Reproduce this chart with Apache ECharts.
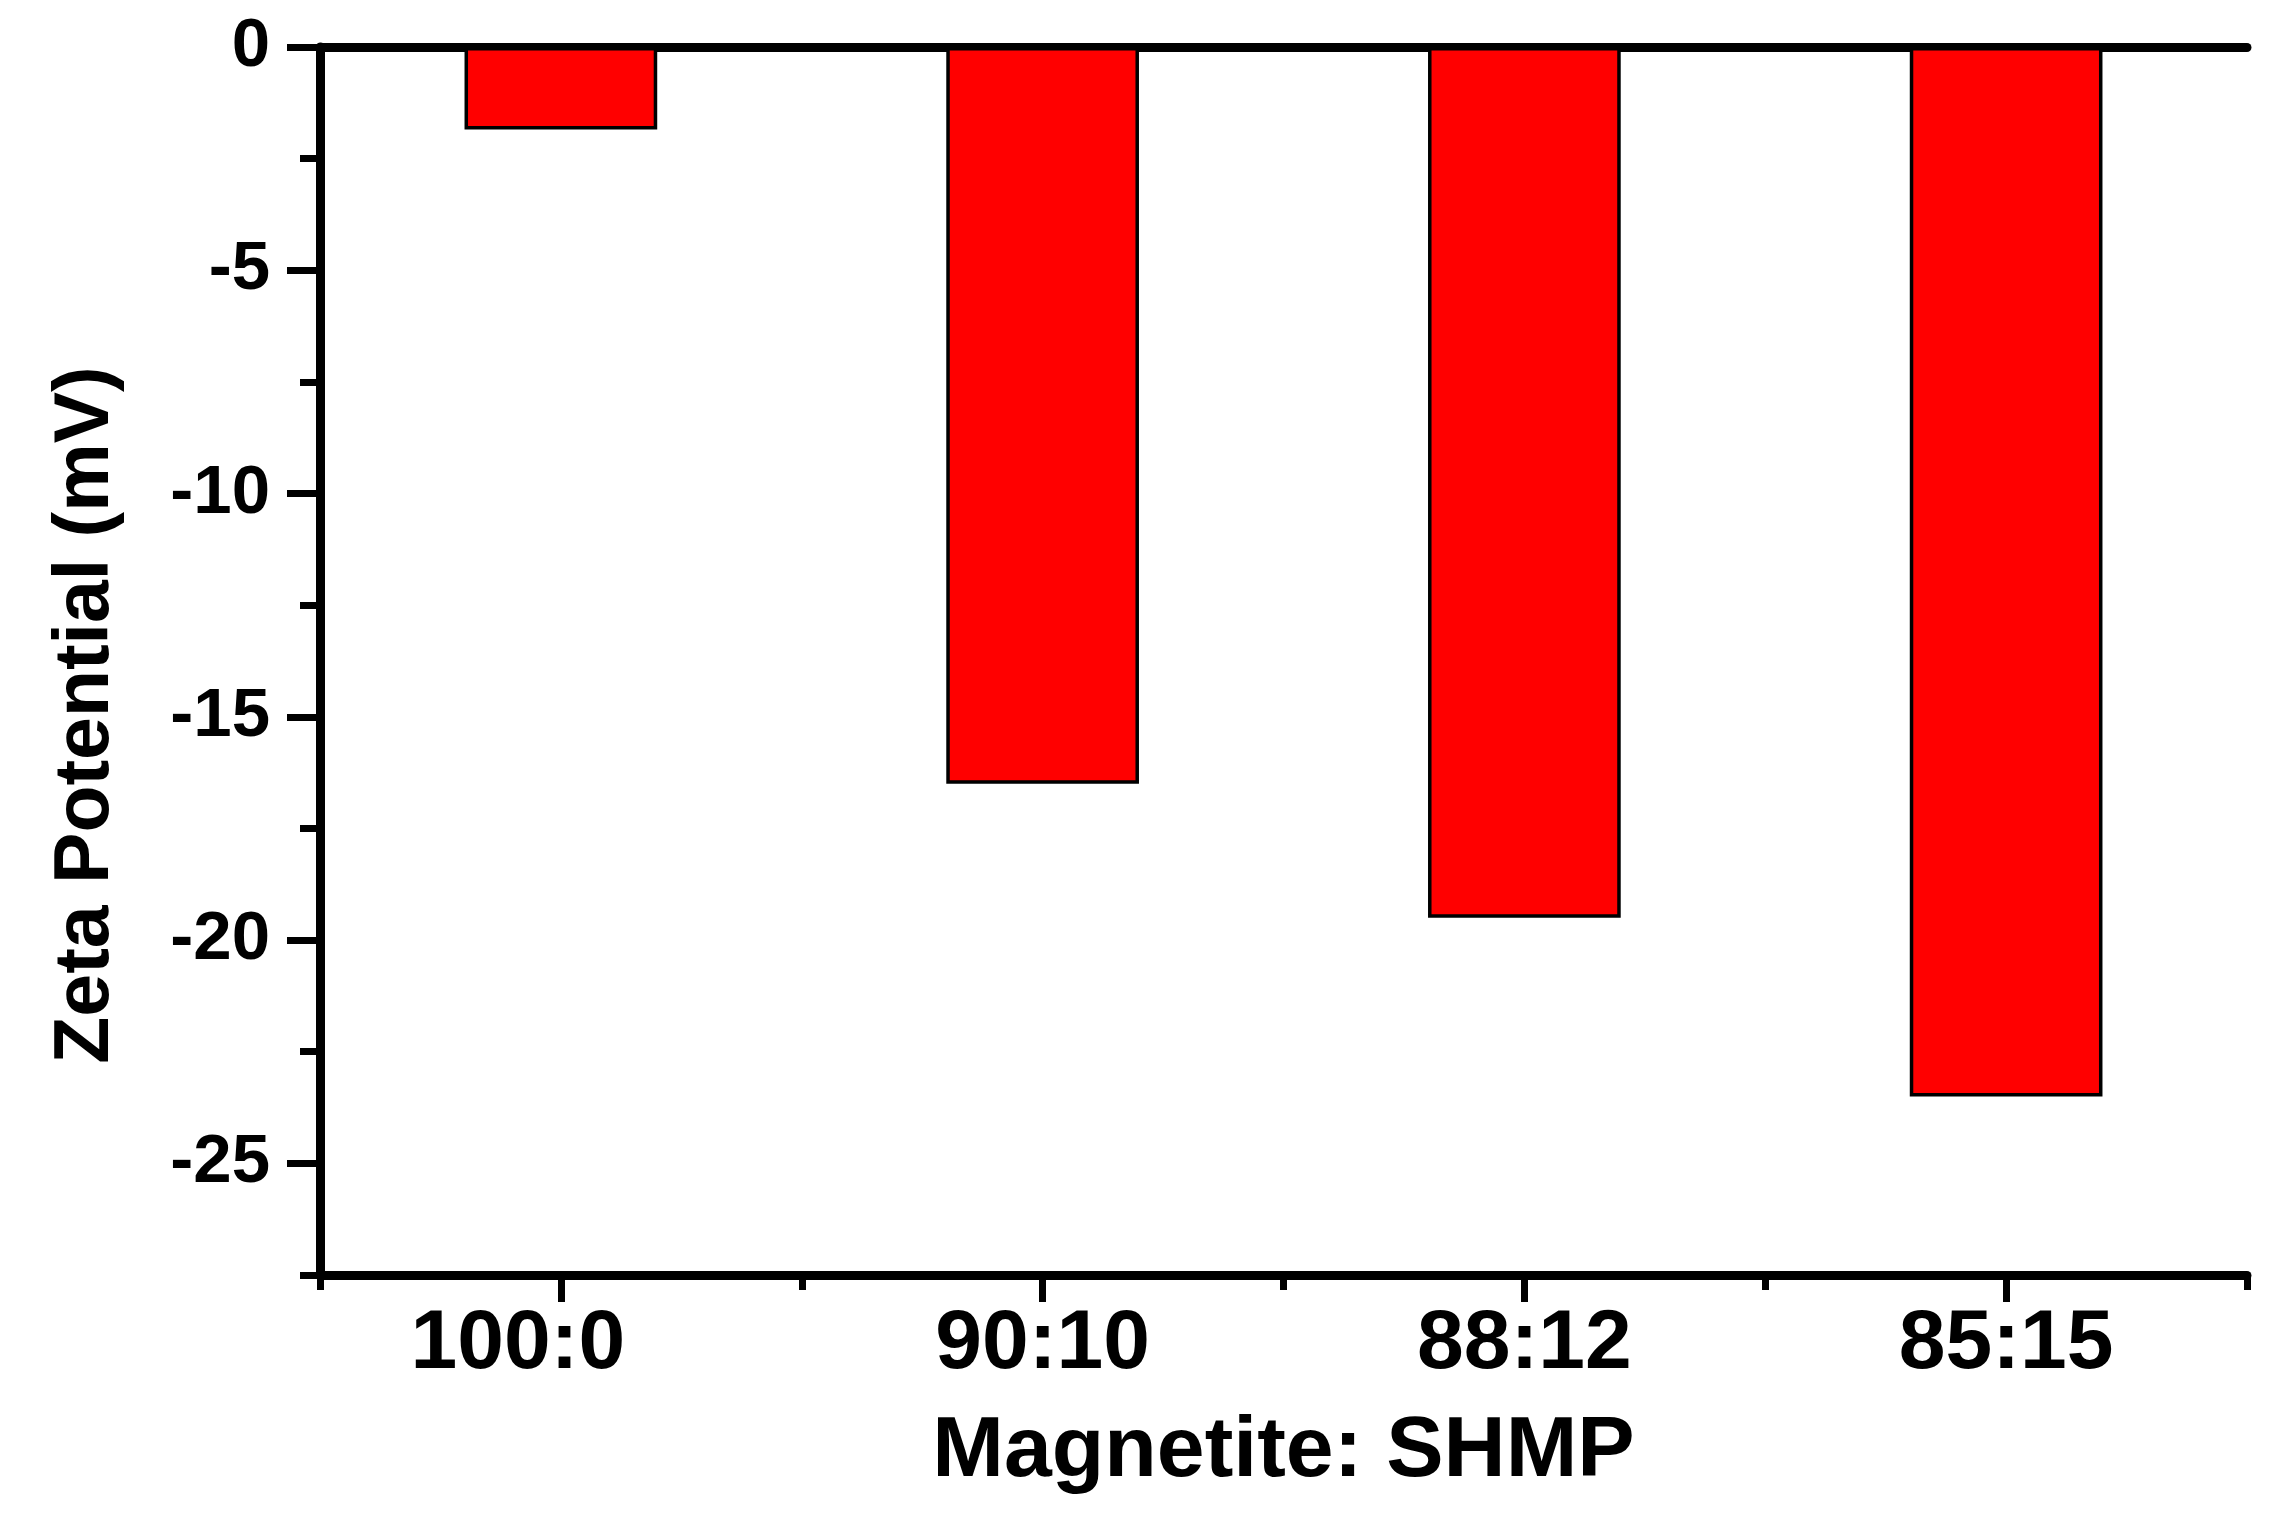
<!DOCTYPE html>
<html>
<head>
<meta charset="utf-8">
<script src="https://cdn.jsdelivr.net/npm/echarts@6/dist/echarts.min.js"></script>
<style>
  html, body { margin: 0; padding: 0; background: #fff; }
  #chart { width: 2270px; height: 1515px; }
</style>
</head>
<body>
<div id="chart"></div>
<script>
// Magnetite : SHMP ratios and measured zeta potentials (mV)
const ratios = ['100:0', '90:10', '88:12', '85:15'];
const zetaValues = [-1.85, -16.5, -19.5, -23.5];
const yMajorTicks = [0, -5, -10, -15, -20, -25];
const yMinorTicks = [-2.5, -7.5, -12.5, -17.5, -22.5, -27.5];
const yMin = -27.5;
const yMax = 0;

const font = '"Liberation Sans", Arial, sans-serif';
const chart = echarts.init(document.getElementById('chart'));

// the first label sits a little left of its tick in the original figure
const xLabels = ratios.map(function (r, i) {
    return i === 0 ? { value: r, textStyle: { padding: [0, 86, 0, 0] } } : r;
});

chart.setOption({
    backgroundColor: '#ffffff',
    animation: false,
    grid: { left: 320, right: 23, top: 47, bottom: 240 },
    xAxis: [
        {
            // main axis: labels + short ticks on category boundaries
            type: 'category',
            data: xLabels,
            position: 'bottom',
            axisLine: { onZero: false, lineStyle: { color: '#000', width: 9 } },
            axisTick: { show: true, length: 15, lineStyle: { color: '#000', width: 7 } },
            axisLabel: {
                color: '#000', fontFamily: font, fontWeight: 'bold', fontSize: 84, margin: 28
            },
            name: 'Magnetite: SHMP',
            nameLocation: 'middle',
            nameGap: 134,
            nameTextStyle: { color: '#000', fontFamily: font, fontWeight: 'bold', fontSize: 86 },
            splitLine: { show: false }
        },
        {
            // longer ticks under each category
            type: 'category',
            data: ratios,
            position: 'bottom',
            axisLine: { show: false, onZero: false },
            axisTick: { show: true, alignWithLabel: true, length: 27, lineStyle: { color: '#000', width: 7 } },
            axisLabel: { show: false },
            splitLine: { show: false }
        },
        {
            // top frame line at zero
            type: 'category',
            data: ratios,
            position: 'top',
            axisLine: { onZero: false, lineStyle: { color: '#000', width: 9 } },
            axisTick: { show: false },
            axisLabel: { show: false },
            splitLine: { show: false }
        }
    ],
    yAxis: [
        {
            type: 'value',
            min: yMin,
            max: yMax,
            position: 'left',
            axisLine: { show: true, onZero: false, lineStyle: { color: '#000', width: 9 } },
            axisTick: { show: true, length: 33, customValues: yMajorTicks, lineStyle: { color: '#000', width: 7 } },
            axisLabel: {
                customValues: yMajorTicks,
                color: '#000', fontFamily: font, fontWeight: 'bold', fontSize: 69, margin: 50
            },
            splitLine: { show: false },
            name: 'Zeta Potential (mV)',
            nameLocation: 'middle',
            nameGap: 195,
            nameTextStyle: {
                color: '#000', fontFamily: font, fontWeight: 'bold', fontSize: 77,
                padding: [0, 108, 0, 0]
            }
        },
        {
            type: 'value',
            min: yMin,
            max: yMax,
            position: 'left',
            axisLine: { show: false, onZero: false },
            axisTick: { show: true, length: 20, customValues: yMinorTicks, lineStyle: { color: '#000', width: 7 } },
            axisLabel: { show: false },
            splitLine: { show: false }
        }
    ],
    series: [{
        type: 'bar',
        data: zetaValues,
        xAxisIndex: 0,
        yAxisIndex: 0,
        barWidth: '40%',
        itemStyle: { color: '#ff0000', borderColor: '#000', borderWidth: 3.5 }
    }]
});
</script>
</body>
</html>
